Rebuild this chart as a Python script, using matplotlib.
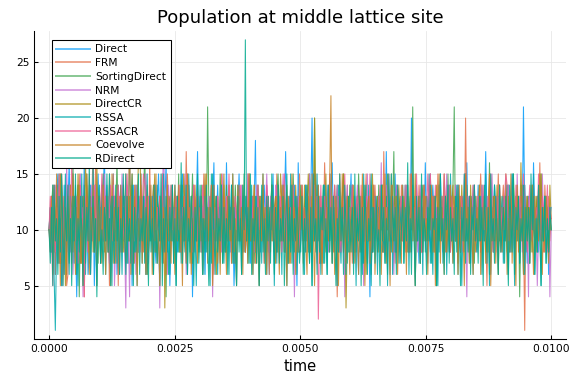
import numpy as np
import matplotlib.pyplot as plt

# populações (sítio central da rede); cada linha = 0.0005 de tempo
names = ["Direct", "FRM", "SortingDirect", "NRM", "DirectCR",
         "RSSA", "RSSACR", "Coevolve", "RDirect"]
colors = ["#009AFA", "#E36F47", "#3EA44E", "#C371D2", "#AC8E18",
          "#00A9AD", "#ED5E93", "#C68225", "#00A98D"]

direct = """
10 12 8 14 11 6 13 15 9 7 12 5 14 9 6 12 16 10 8 15
11 9 4 14 10 7 13 11 16 9 12 6 8 14 11 13 5 10 12 15
10 11 8 13 17 9 14 10 7 12 11 15 9 13 6 8 12 14 11 9
13 10 7 12 16 11 5 14 10 12 8 13 11 15 9 10 13 6 12 8
14 11 10 13 9 7 12 15 11 10 13 8 12 16 9 11 5 10 12 9
14 11 8 12 10 13 15 9 11 7 12 14 10 13 4 11 8 12 17 10
13 11 9 14 6 12 8 11 13 10 12 16 9 11 14 10 7 12 13 11
9 16 10 12 8 14 11 5 9 10 12 15 11 8 13 10 12 9 14 11
7 13 10 12 18 9 11 13 8 12 10 14 11 9 13 6 12 10 15 9
12 8 14 11 10 13 9 12 17 11 7 13 10 12 9 14 11 5 16 10
13 12 9 11 14 10 12 8 13 20 9 15 10 12 14 11 7 13 10 12
9 14 11 8 13 16 10 12 9 11 13 10 8 12 14 11 9 13 10 12
15 8 11 13 10 9 6 12 11 7 13 10 12 9 11 4 14 10 12 9
11 13 10 8 12 14 11 9 17 10 12 6 13 11 9 15 10 12 8 11
10 14 9 12 11 13 8 10 20 11 12 9 14 10 7 13 11 12 9 16
11 13 10 8 12 14 11 9 5 10 12 15 11 8 13 10 12 9 14 11
13 10 12 9 11 14 10 8 12 13 11 9 16 10 12 7 13 11 9 12
10 14 11 8 13 10 12 17 11 9 13 6 12 10 14 11 9 13 10 12
8 13 11 10 14 9 12 11 15 10 8 13 12 11 9 14 10 21 12 11
7 13 10 12 9 16 11 10 13 8 12 14 11 9 13 10 12 6 11 12
"""
frm = """
10 11 13 8 12 6 14 10 7 12 15 11 9 13 5 6 12 14 11 8
13 10 12 9 15 11 7 13 4 12 14 9 11 8 13 17 10 16 9 11
13 7 12 10 14 11 9 12 5 13 10 15 11 9 12 5 13 10 11 14
8 12 10 13 9 11 15 10 7 12 13 9 11 14 10 8 12 13 6 9
16 10 12 14 8 11 13 10 9 12 11 7 13 10 15 12 9 11 14 10
12 9 13 11 8 14 10 12 9 17 11 13 10 7 12 14 11 9 13 10
12 8 11 15 10 13 9 11 12 10 14 8 12 11 13 9 10 15 12 11
8 13 10 14 9 12 11 7 13 10 11 14 9 12 10 13 8 11 15 10
12 9 13 11 7 12 14 10 9 13 11 12 8 14 10 6 12 9 13 11
10 15 8 12 11 14 9 13 10 12 7 11 14 10 13 9 12 11 8 15
10 13 11 9 12 14 10 8 13 11 12 9 15 10 11 13 7 12 10 16
11 9 14 12 10 13 8 12 11 4 10 15 12 11 8 13 10 14 9 12
11 7 13 10 12 9 14 11 8 13 10 12 15 9 11 13 10 8 12 14
11 9 13 10 12 8 17 11 10 13 9 12 11 14 10 7 12 13 11 9
14 10 12 8 13 11 9 15 10 12 11 13 9 10 14 12 8 11 13 10
12 9 14 11 10 13 8 12 11 15 10 9 13 12 11 8 14 10 12 13
9 11 10 14 12 8 11 13 10 12 9 20 11 10 13 8 12 14 11 9
13 10 12 15 11 9 13 10 5 12 14 11 10 13 9 12 11 15 10 8
12 14 11 9 13 12 10 8 13 11 12 9 14 10 11 13 12 10 1 13
10 12 9 11 14 10 12 11 13 9 16 10 12 8 14 11 10 13 9 11
"""
sorting_direct = """
10 9 12 14 8 11 13 10 15 7 12 5 9 14 10 12 8 13 11 16
9 10 12 14 4 11 13 9 12 10 15 11 8 13 10 12 9 14 11 7
12 10 13 15 9 11 12 8 14 10 13 11 9 12 16 10 8 13 11 14
9 12 10 7 13 11 15 10 12 9 14 8 11 13 10 12 17 11 6 10
12 9 11 14 10 8 13 12 11 9 15 10 12 4 13 11 10 14 9 12
11 13 10 15 8 12 11 9 14 10 13 12 7 11 15 10 12 9 13 11
8 14 10 11 13 9 21 12 10 14 8 11 13 10 12 9 15 11 7 12
10 14 9 13 11 12 8 10 14 11 9 12 13 10 8 15 11 12 9 14
10 11 13 7 12 10 14 11 9 13 12 8 11 10 13 9 12 14 11 8
10 13 15 11 9 12 10 14 8 13 11 12 9 10 15 11 13 8 12 10
14 11 9 12 13 10 8 15 11 12 9 20 10 11 13 7 12 10 14 11
9 13 12 8 11 10 13 9 12 14 11 8 10 13 15 11 9 12 10 14
8 13 11 12 9 10 15 11 13 8 12 10 14 11 9 12 6 11 13 10
12 9 14 11 10 13 8 12 11 15 10 9 13 12 17 8 14 10 12 13
9 11 10 14 12 8 11 13 10 21 9 11 12 10 13 8 12 14 11 9
13 10 12 15 11 9 13 10 5 12 14 11 10 13 9 12 11 15 10 8
12 14 21 9 13 12 10 8 13 11 12 9 14 10 11 13 12 10 7 13
10 12 9 11 14 10 12 11 13 9 16 10 12 8 14 11 10 13 9 11
12 10 13 11 8 14 9 12 10 15 11 13 9 12 4 11 14 10 12 9
13 11 10 12 8 14 9 11 13 10 12 15 9 11 10 13 12 8 11 10
"""
nrm = """
10 8 13 6 9 14 12 7 10 15 5 12 11 9 16 10 14 8 12 6
9 13 10 7 12 15 11 4 14 10 12 8 13 6 14 12 10 14 9 11
13 8 12 10 15 11 9 13 7 12 10 14 5 9 12 13 8 10 15 11
9 3 14 10 4 13 11 9 12 6 14 8 11 13 10 12 9 15 11 7
12 10 13 9 11 14 10 12 3 13 11 19 10 12 6 14 11 10 12 8
13 11 9 14 10 12 8 11 15 6 13 9 12 11 7 14 10 12 9 13
11 8 12 10 14 9 11 13 10 12 4 14 11 9 13 10 12 8 15 11
10 13 9 12 11 7 14 10 12 9 13 11 10 14 8 12 11 9 15 10
13 11 12 8 10 14 9 12 11 13 10 7 12 15 11 9 13 10 12 8
14 11 10 13 9 12 15 11 8 13 10 12 9 14 11 4 12 10 13 11
9 14 10 12 8 13 11 15 9 10 12 14 11 7 13 10 12 9 11 14
10 13 8 12 11 10 13 9 12 14 11 8 10 13 12 4 11 14 9 12
10 13 11 8 12 14 10 9 12 11 5 13 10 15 9 12 11 8 14 10
12 9 13 11 16 10 8 12 14 11 10 13 9 12 6 11 14 10 12 9
13 11 10 14 8 12 11 9 15 10 13 11 12 8 10 14 9 12 11 13
10 7 12 15 11 9 13 10 12 8 14 11 10 13 9 12 15 11 8 13
10 12 9 14 11 10 13 8 12 11 15 10 4 13 12 11 9 14 10 12
8 13 11 10 14 12 9 11 13 10 12 9 15 11 10 13 8 12 14 10
11 9 13 12 10 14 8 11 13 10 12 9 15 11 10 13 8 12 14 10
11 4 13 12 10 14 8 11 5 10 12 9 15 11 10 13 8 12 4 10
"""
direct_cr = """
10 12 9 11 14 8 13 10 12 15 7 11 13 5 9 12 10 14 11 8
13 12 9 15 10 11 7 13 12 16 10 9 14 11 12 8 13 10 16 9
11 12 14 10 8 13 11 9 15 12 10 7 13 11 14 9 12 10 13 8
11 15 10 12 9 14 11 7 13 10 12 16 21 11 13 10 8 12 14 11
9 13 10 12 15 8 11 10 13 9 12 14 3 11 10 12 13 9 11 10
14 9 12 11 13 8 10 15 12 9 11 14 10 13 7 12 11 9 14 10
12 13 8 11 15 10 12 9 13 11 8 14 10 6 12 9 11 13 10 15
8 12 11 14 9 10 13 12 7 11 13 10 12 9 14 11 8 13 10 15
12 9 11 14 10 7 12 13 11 9 14 10 12 8 13 11 10 14 9 12
13 8 11 10 15 12 9 13 11 14 10 7 12 11 13 9 14 10 12 8
13 11 10 14 9 12 15 11 8 13 10 20 9 14 11 10 13 7 12 11
15 9 10 13 12 8 11 14 10 12 9 13 11 10 15 12 3 9 13 11
10 14 12 8 11 13 10 12 9 11 14 10 6 12 13 11 9 15 10 12
11 13 9 12 10 14 8 11 13 10 12 9 15 11 10 13 8 12 14 10
12 9 13 11 10 14 8 12 11 13 10 15 9 12 11 8 14 10 12 13
9 11 10 12 13 10 8 12 14 11 9 13 10 12 15 11 8 13 10 12
9 14 11 10 13 7 12 11 14 10 9 13 12 11 8 14 10 12 13 9
11 10 14 12 9 13 11 8 12 10 15 11 9 13 12 10 14 8 11 13
10 12 9 15 11 13 8 12 10 14 11 9 13 12 10 16 11 9 12 10
13 11 12 8 14 10 9 13 11 12 10 15 11 9 13 10 12 8 14 11
"""
rssa = """
10 12 8 13 6 1 9 14 7 11 5 12 10 15 8 11 6 13 9 12
7 14 10 5 12 9 15 8 11 6 13 10 7 12 9 16 8 11 5 13
10 7 14 9 12 6 11 8 15 10 5 13 9 12 7 14 8 11 6 12
9 15 7 11 10 13 6 12 8 14 5 11 9 13 7 12 10 6 15 8
11 9 13 6 12 8 14 10 5 11 7 15 9 12 8 13 6 10 14 7
12 5 13 9 11 7 14 10 8 12 6 15 9 11 7 13 10 5 12 8
14 9 11 6 13 8 12 10 5 15 7 11 9 13 6 12 8 14 10 7
11 8 13 6 12 9 15 7 10 5 14 9 12 6 11 8 13 10 7 12
9 14 6 11 8 13 10 5 12 7 15 9 11 6 13 8 12 10 14 5
11 7 13 9 12 6 14 8 10 5 12 9 15 7 11 8 13 6 10 12
8 13 10 6 14 9 11 7 12 5 13 10 8 15 9 11 6 12 7 14
10 6 12 9 15 7 11 8 13 5 14 10 7 12 9 11 6 13 8 12
9 14 7 11 5 13 10 8 12 6 15 9 11 7 14 10 5 12 8 13
11 6 12 9 14 8 10 7 13 5 12 9 15 6 11 8 13 10 7 12
10 13 7 11 9 14 6 12 8 15 10 5 11 9 13 7 12 6 14 8
12 9 15 7 10 6 13 8 11 5 14 9 12 7 10 13 6 11 8 15
11 7 12 9 14 6 13 10 5 11 8 15 9 12 7 13 10 6 14 9
8 12 10 13 6 11 9 15 7 12 5 13 10 8 14 9 11 6 12 10
13 7 11 9 14 6 12 8 15 10 5 11 9 13 7 12 10 6 14 8
10 12 7 13 9 15 6 11 8 14 10 5 12 9 13 7 11 8 12 10
"""
rssacr = """
10 13 9 5 14 8 12 10 15 7 11 13 6 12 10 14 8 11 16 10
12 9 13 7 11 14 10 12 4 13 11 8 15 10 12 9 14 11 7 13
10 12 15 9 11 13 10 8 12 14 11 9 13 10 12 14 11 8 13 10
9 12 15 11 10 13 7 12 9 14 11 10 13 8 12 15 14 11 9 13
10 12 8 11 14 10 12 9 13 11 15 10 8 12 11 13 9 14 10 12
9 13 11 10 14 8 12 11 13 9 15 10 12 11 8 14 10 13 9 12
11 10 14 12 9 13 10 11 12 14 9 6 12 10 13 11 8 14 10 12
9 13 11 15 10 12 8 11 13 10 12 9 14 11 10 13 8 12 11 15
10 9 13 12 11 8 14 10 12 13 9 11 10 14 12 8 11 13 10 12
9 14 11 10 13 8 12 15 11 9 13 10 12 11 14 9 10 13 12 8
11 14 10 12 9 13 11 8 12 10 15 11 9 13 2 10 14 8 11 13
10 12 9 15 11 10 12 14 9 11 13 10 8 12 11 15 10 13 9 12
11 14 10 8 12 13 11 9 14 10 12 9 13 11 10 15 12 8 11 13
10 12 9 14 11 10 13 8 12 11 15 10 9 13 12 11 8 14 10 12
13 9 11 10 14 12 8 11 13 10 12 9 15 11 10 13 8 12 14 10
11 15 12 15 9 13 10 14 8 11 12 13 10 9 15 11 12 10 14 8
13 11 10 12 9 14 11 10 13 8 12 15 11 9 13 10 12 11 14 9
10 13 12 8 11 14 10 12 9 13 11 15 10 8 12 11 13 9 14 10
12 10 13 15 14 9 11 13 10 12 8 14 11 10 13 9 12 15 11 10
8 12 14 11 9 13 10 12 11 15 10 9 13 12 8 11 14 10 12 11
"""
coevolve = """
10 8 13 6 12 9 15 7 11 5 14 10 8 12 6 13 9 11 7 15
10 6 12 9 14 7 11 5 13 8 15 10 6 12 9 14 8 11 5 13
9 12 7 14 10 6 13 8 11 5 15 9 12 7 13 10 6 14 8 11
10 7 13 9 21 6 12 8 14 10 5 11 9 15 7 12 10 6 13 8
11 14 6 12 9 15 7 10 5 13 8 12 10 6 14 9 11 7 13 10
6 12 9 14 8 11 5 13 10 7 15 9 12 6 11 8 14 10 7 12
9 13 6 11 10 15 7 12 8 14 5 10 9 13 7 11 6 12 8 14
10 6 13 9 12 7 15 8 11 5 14 10 9 12 6 13 8 11 7 15
9 11 6 14 8 12 10 5 13 9 15 7 11 6 12 10 8 14 9 12
7 13 10 6 12 9 14 8 11 5 13 10 7 15 9 12 6 11 8 13
10 14 7 12 9 6 13 11 8 15 10 5 12 9 14 7 11 6 13 10
8 12 9 14 22 7 11 6 13 10 5 12 9 15 8 11 7 13 10 6
12 9 14 7 11 10 6 13 8 15 10 5 12 9 13 7 11 8 14 6
10 12 8 13 6 11 9 15 7 12 10 5 14 8 11 9 13 6 12 10
7 14 9 11 6 13 10 8 15 9 12 5 11 10 13 7 12 8 14 9
11 6 12 10 14 8 13 5 11 9 15 7 12 10 6 13 8 11 9 14
10 7 13 9 12 6 14 8 11 10 5 15 9 12 7 13 10 6 11 8
12 9 14 6 11 10 13 7 12 8 15 5 10 9 13 7 11 6 14 10
8 12 10 13 6 11 9 15 7 12 10 5 14 8 11 9 13 6 12 10
9 12 7 14 10 6 13 8 11 9 15 10 6 12 8 13 10 7 11 10
"""
rdirect = """
10 7 12 5 14 9 11 6 13 8 15 10 6 12 9 14 7 11 5 13
9 15 6 11 8 13 10 5 14 7 12 9 16 6 10 13 8 11 4 12
14 7 10 6 12 9 15 8 11 5 13 10 7 14 9 12 6 11 8 15
10 6 13 9 11 7 14 5 12 8 10 15 6 11 9 13 7 12 10 5
13 8 11 6 14 10 7 12 9 15 5 11 8 13 10 6 12 9 14 7
11 5 13 8 10 16 7 12 9 14 6 11 8 13 10 5 12 9 15 7
10 13 6 11 8 14 9 5 12 7 15 10 6 13 8 11 9 14 7 12
8 11 6 13 10 14 7 12 9 5 13 8 11 6 14 10 27 9 12 7
15 6 11 9 13 7 12 5 10 14 8 11 6 13 9 12 7 15 10 6
12 8 14 7 11 9 13 5 10 15 7 12 8 14 6 11 9 13 10 7
9 13 6 11 8 14 10 7 12 5 15 9 11 6 13 8 12 10 14 7
11 6 14 9 12 7 13 10 5 11 8 15 9 12 6 14 10 7 13 8
10 12 6 15 8 11 9 13 5 12 7 14 10 6 11 9 15 8 12 7
13 8 10 5 14 9 12 7 11 6 15 10 8 13 9 12 6 14 11 7
10 13 7 12 9 16 8 11 6 14 10 5 13 9 12 7 15 8 11 10
6 12 9 14 7 11 10 13 5 12 8 15 9 11 6 13 10 14 7 12
9 11 6 13 8 14 10 5 12 9 15 7 11 8 13 6 12 10 14 9
11 7 13 9 12 5 14 10 8 12 6 15 9 11 7 13 10 6 14 8
10 12 7 13 9 5 14 11 8 15 6 12 10 13 7 11 9 14 6 12
9 12 7 15 10 13 6 11 8 14 10 5 12 9 13 7 11 8 12 10
"""

series = [direct, frm, sorting_direct, nrm, direct_cr, rssa, rssacr, coevolve, rdirect]
T_END = 0.01


def parse(txt):
    return np.array(txt.split(), dtype=float)


fig = plt.figure(figsize=(6, 4), dpi=96)
ax = fig.add_axes([0.059, 0.117, 0.924, 0.802])

for name, col, txt in zip(names, colors, series):
    vals = parse(txt)
    t = np.linspace(0, T_END, len(vals))
    ax.plot(t, vals, color=col, lw=0.8, alpha=0.85, label=name)

ax.set_xlim(-0.0003, 0.0103)
ax.set_ylim(0.22, 27.78)
ax.set_xticks([0, 0.0025, 0.005, 0.0075, 0.01])
ax.set_xticklabels(["0.0000", "0.0025", "0.0050", "0.0075", "0.0100"])
ax.set_yticks([5, 10, 15, 20, 25])
ax.tick_params(labelsize=8, length=3, direction="in", color="black")
ax.grid(True, color="#e6e6e6", lw=0.6)
ax.set_axisbelow(True)
for s in ["top", "right"]:
    ax.spines[s].set_visible(False)
ax.set_title("Population at middle lattice site", fontsize=13.5)
ax.set_xlabel("time", fontsize=11)

leg = ax.legend(loc="upper left", bbox_to_anchor=(0.034, 0.971), fontsize=8,
                frameon=True, fancybox=False, edgecolor="black",
                handlelength=3.2, labelspacing=0.35, borderaxespad=0,
                handletextpad=0.45, framealpha=1)
leg.get_frame().set_linewidth(0.8)
for h in leg.get_lines():
    h.set_linewidth(1.5)
    h.set_alpha(0.6)

plt.savefig("out.png", dpi=96)
